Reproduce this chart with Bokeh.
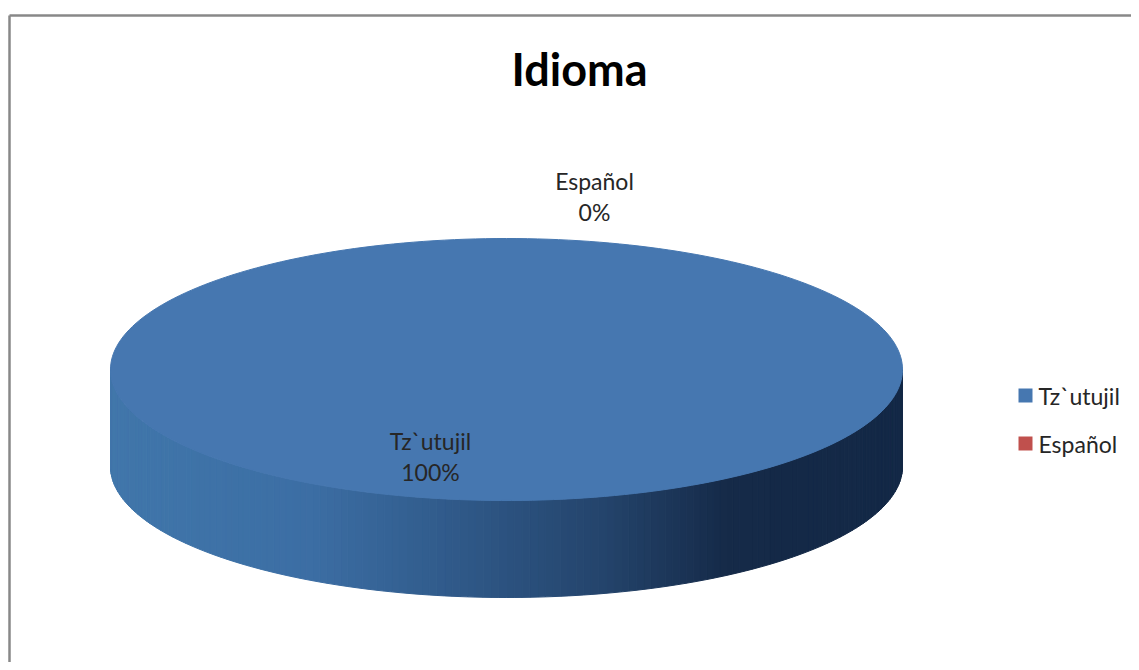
import math
from bokeh.plotting import figure
from bokeh.models import Range1d
from bokeh.core.properties import value
from bokeh.embed import file_html
from bokeh.resources import INLINE

# ---- data ----
categories = ["Tz`utujil", "Español"]
values = [100, 0]
pct_labels = ["100%", "0%"]
title_text = "Idioma"

# ---- styles / layout ----
W, H = 1131, 662
FONT = "Lato"
top_colors = ["#4677B0", "#C0504D"]
CX, CY = 506, 369        # centre of top ellipse (figure pixels)
A, B = 396, 131          # semi axes
DEPTH = 97
BORDER_X, BORDER_Y = 9, 15

p = figure(width=W, height=H, output_backend="svg", toolbar_location=None,
           x_range=Range1d(0, W), y_range=Range1d(H, 0),
           min_border=0, outline_line_color=None)
p.axis.visible = False
p.grid.visible = False
p.background_fill_color = "white"
p.border_fill_color = "white"

# chart border (only top and left visible in window)
p.segment(x0=[BORDER_X, BORDER_X], y0=[BORDER_Y, BORDER_Y], x1=[W + 20, BORDER_X],
          y1=[BORDER_Y, H + 20], line_color="#888888", line_width=2.5)

total = float(sum(values))
# Excel starts at 12 o'clock, clockwise. screen coords: x=cx+a*cos, y=cy+b*sin (y down)
starts, ends = [], []
acc = 0.0
for v in values:
    s = -math.pi / 2 + 2 * math.pi * acc / total
    acc += v
    e = -math.pi / 2 + 2 * math.pi * acc / total
    starts.append(s)
    ends.append(e)

# side shading keyed by horizontal fraction
side_keys = [(0.0, (64, 118, 170)), (0.25, (60, 110, 164)), (0.43, (48, 90, 138)),
             (0.62, (36, 68, 108)), (0.78, (21, 42, 72)), (1.0, (19, 40, 70))]


def side_color(t):
    for (t0, c0), (t1, c1) in zip(side_keys[:-1], side_keys[1:]):
        if t <= t1:
            f = (t - t0) / (t1 - t0) if t1 > t0 else 0
            c = [round(c0[k] + f * (c1[k] - c0[k])) for k in range(3)]
            return "#%02x%02x%02x" % tuple(c)
    return "#%02x%02x%02x" % side_keys[-1][1]


def norm(a):
    return a % (2 * math.pi)

# front side: visible for angles in [0, pi]
N = 160
xs_side, ys_side, cols_side = [], [], []
for i in range(N):
    t0 = math.pi * i / N
    t1 = math.pi * (i + 1) / N
    mid = (t0 + t1) / 2
    owner = None
    for k, (s, e) in enumerate(zip(starts, ends)):
        if e - s <= 0:
            continue
        if norm(mid - s) <= (e - s) + 1e-9:
            owner = k
            break
    if owner is None:
        continue
    x0 = CX + A * math.cos(t0)
    x1 = CX + A * math.cos(t1)
    y0 = CY + B * math.sin(t0)
    y1 = CY + B * math.sin(t1)
    xs_side.append([x0, x1, x1, x0])
    ys_side.append([y0, y1, y1 + DEPTH, y0 + DEPTH])
    xm = CX + A * math.cos(mid)
    frac = (xm - (CX - A)) / (2 * A)
    cols_side.append(side_color(frac) if owner == 0 else "#8C3836")
p.patches(xs_side, ys_side, fill_color=cols_side, line_color=cols_side, line_width=1)

# top surface
for k, (s, e) in enumerate(zip(starts, ends)):
    if e - s <= 0:
        continue
    n = max(4, int(240 * (e - s) / (2 * math.pi)))
    angs = [s + (e - s) * j / n for j in range(n + 1)]
    xs = [CX + A * math.cos(a) for a in angs]
    ys = [CY + B * math.sin(a) for a in angs]
    if e - s < 2 * math.pi - 1e-9:
        xs = [CX] + xs
        ys = [CY] + ys
    p.patch(xs, ys, fill_color=top_colors[k], line_color=top_colors[k], line_width=1)

# title
p.text(x=[CX + 73], y=[68], text=[title_text], text_font=value(FONT),
       text_font_style="bold", text_font_size="45px", text_color="#000000",
       text_align="center", text_baseline="middle")

# data labels
label_pos = {0: (430, 440), 1: (594, 180)}
for k, cat in enumerate(categories):
    lx, ly = label_pos[k]
    p.text(x=[lx], y=[ly], text=[cat], text_font=value(FONT), text_font_size="23px",
           text_color="#262626", text_align="center", text_baseline="middle")
    p.text(x=[lx], y=[ly + 31], text=[pct_labels[k]], text_font=value(FONT),
           text_font_size="23px", text_color="#262626", text_align="center",
           text_baseline="middle")

# legend
LX, LY0, LDY = 1025, 395, 48
for k, cat in enumerate(categories):
    p.scatter(x=[LX], y=[LY0 + k * LDY], marker="square", size=14,
              fill_color=top_colors[k], line_color=None)
    p.text(x=[LX + 13], y=[LY0 + k * LDY], text=[cat], text_font=value(FONT),
           text_font_size="23px", text_color="#262626", text_align="left",
           text_baseline="middle")

open("out.html", "w").write(file_html(p, INLINE))
